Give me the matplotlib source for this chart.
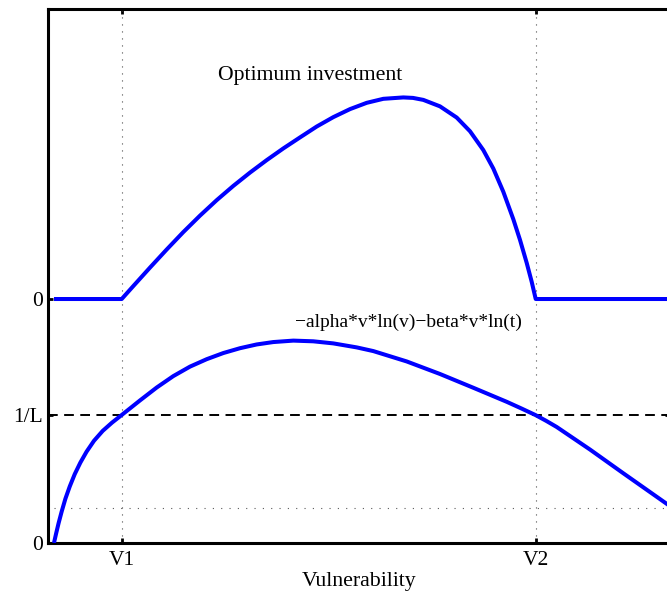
import matplotlib
matplotlib.use("Agg")
import matplotlib.pyplot as plt

plt.rcParams["font.family"] = ["Liberation Serif", "DejaVu Serif"]

# vulnerability positions of the two thresholds
V1 = 0.1185
V2 = 0.784

# y-axis levels (axis units)
LEVEL_ZERO = 0.0
LEVEL_ONE_OVER_L = 0.2397
LEVEL_INVEST_ZERO = 0.4569
LEVEL_DOTTED = 0.0655

ytick_pos = [LEVEL_ZERO, LEVEL_ONE_OVER_L, LEVEL_INVEST_ZERO]
ytick_labels = ["0", "1/L", "0"]
xtick_pos = [V1, V2]
xtick_labels = ["V1", "V2"]

# -alpha*v*ln(v) - beta*v*ln(t)
benefit_v = [0.0096, 0.0130, 0.0170, 0.0220, 0.0280, 0.0350, 0.0430, 0.0520,
             0.0620, 0.0740, 0.0880, 0.1030, 0.1185, 0.1479, 0.1748, 0.2014,
             0.2283, 0.2551, 0.2818, 0.3087, 0.3355, 0.3622, 0.3944, 0.4265,
             0.4587, 0.4963, 0.5230, 0.5767, 0.6302, 0.6838, 0.7375, 0.7608,
             0.7841, 0.8010, 0.8178, 0.8714, 0.9249, 0.9947, 1.0]
benefit_y = [0.0, 0.0175, 0.0370, 0.0590, 0.0830, 0.1060, 0.1290, 0.1505,
             0.1710, 0.1915, 0.2100, 0.2255, 0.2397, 0.2670, 0.2912, 0.3125,
             0.3303, 0.3442, 0.3557, 0.3648, 0.3718, 0.3763, 0.3790, 0.3777,
             0.3738, 0.3663, 0.3594, 0.3400, 0.3165, 0.2907, 0.2644, 0.2521,
             0.2394, 0.2287, 0.2173, 0.1750, 0.1306, 0.0734, 0.0690]

# optimum investment (height above its own zero line)
invest_v = [0.0096, 0.1185, 0.1371, 0.1640, 0.1908, 0.2175, 0.2444, 0.2712,
            0.2979, 0.3248, 0.3516, 0.3783, 0.4051, 0.4320, 0.4587, 0.4855,
            0.5124, 0.5391, 0.5712, 0.5868, 0.6034, 0.6302, 0.6571, 0.6785,
            0.6998, 0.7159, 0.7320, 0.7481, 0.7588, 0.7696, 0.7776, 0.7841, 1.0]
invest_h = [0.0, 0.0, 0.0242, 0.0589, 0.0927, 0.1253, 0.1562, 0.1851,
            0.2118, 0.2368, 0.2601, 0.2820, 0.3026, 0.3230, 0.3406, 0.3556,
            0.3674, 0.3749, 0.3775, 0.3766, 0.3729, 0.3608, 0.3398, 0.3141,
            0.2790, 0.2444, 0.2009, 0.1494, 0.1109, 0.0677, 0.0325, 0.0, 0.0]

fig = plt.figure(figsize=(6.67, 5.99), dpi=100)
ax = fig.add_axes([48 / 667, 1 - 543 / 599, 622 / 667, 534 / 599])

blue = (0, 0, 1)
ax.plot(invest_v, [LEVEL_INVEST_ZERO + h for h in invest_h], color=blue, lw=2.9,
        solid_capstyle="butt", solid_joinstyle="round", zorder=4)
ax.plot(benefit_v, benefit_y, color=blue, lw=2.9,
        solid_capstyle="butt", solid_joinstyle="round", zorder=4)

ax.axhline(LEVEL_ONE_OVER_L, color="black", lw=1.4, ls=(0, (5, 3.3)), zorder=3)
ax.plot([benefit_v[0], 1.0], [LEVEL_DOTTED, LEVEL_DOTTED], color="0.35",
        lw=0.8, ls=(0, (1, 6.5)), zorder=2)
for v in xtick_pos:
    ax.axvline(v, color="0.3", lw=0.8, ls=(0, (1, 5.3)), zorder=2)

ax.text(0.422, 0.876, "Optimum investment", fontsize=15.7,
        ha="center", va="center")
ax.text(0.5788, 0.4135, "\u2212alpha*v*ln(v)\u2212beta*v*ln(t)", fontsize=14,
        ha="center", va="center")

ax.set_xlim(0, 1)
ax.set_ylim(0, 1)
ax.set_xticks(xtick_pos)
ax.set_xticklabels(xtick_labels)
ax.set_yticks(ytick_pos)
ax.set_yticklabels(ytick_labels)
ax.tick_params(direction="in", top=True, right=True, length=3.8, width=2,
               labelsize=15.5)
ax.tick_params(axis="y", pad=3.6)
ax.tick_params(axis="x", pad=6)
for s in ax.spines.values():
    s.set_linewidth(2.2)
ax.set_xlabel("Vulnerability", fontsize=15.7, labelpad=1)

fig.savefig("out.png", dpi=100)
